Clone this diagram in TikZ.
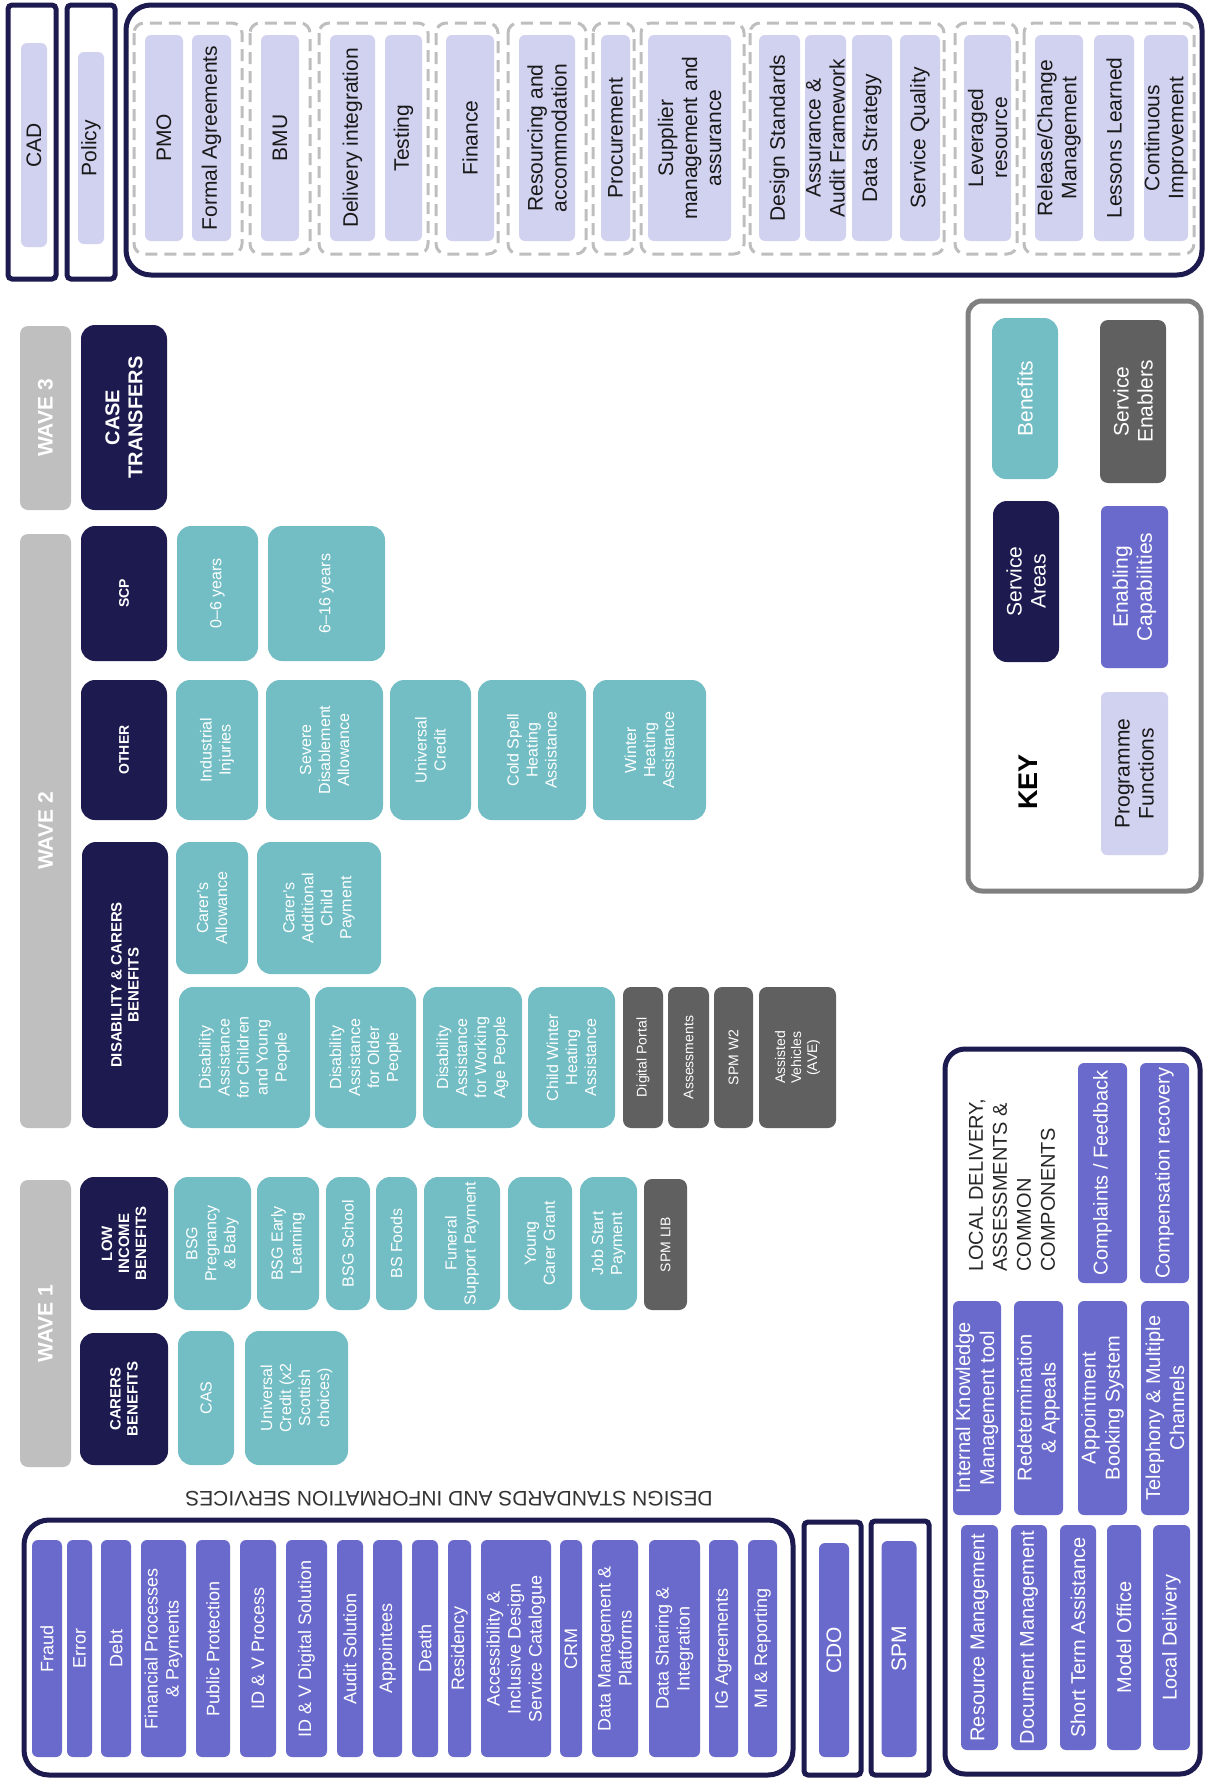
\documentclass[tikz,border=0pt]{standalone}
\usepackage{fontspec}
\setmainfont{Liberation Sans}
\definecolor{navy}{RGB}{28,26,78}
\definecolor{lav}{RGB}{209,209,240}
\definecolor{tealb}{RGB}{115,190,197}
\definecolor{engray}{RGB}{96,96,96}
\definecolor{purp}{RGB}{106,106,204}
\definecolor{wavegray}{RGB}{191,191,191}
\definecolor{dashgray}{RGB}{190,190,190}
\definecolor{keygray}{RGB}{128,128,128}

\begin{document}
\begin{tikzpicture}[x=1pt, y=-1pt,
        fn/.style={rectangle, fill=lav, text=black!90, rounded corners=6pt, inner sep=0pt, align=center, rotate=90, font=\fontsize{21}{24}\selectfont},
        area/.style={rectangle, fill=navy, text=white, rounded corners=14pt, inner sep=0pt, align=center, rotate=90, font=\fontsize{15}{17}\selectfont\bfseries},
        ben/.style={rectangle, fill=tealb, text=white, rounded corners=14pt, inner sep=0pt, align=center, rotate=90, font=\fontsize{16}{19}\selectfont},
        enab/.style={rectangle, fill=engray, text=white, rounded corners=8pt, inner sep=0pt, align=center, rotate=90, font=\fontsize{14}{16}\selectfont},
        ecap/.style={rectangle, fill=purp, text=white, rounded corners=6pt, inner sep=0pt, align=center, rotate=90, font=\fontsize{18}{21}\selectfont},
        lcap/.style={ecap, font=\fontsize{20}{24}\selectfont},
        wave/.style={rectangle, fill=wavegray, text=white, rounded corners=8pt, inner sep=0pt, align=center, rotate=90, font=\fontsize{21}{24}\selectfont\bfseries},
        grp/.style={draw=dashgray, line width=3pt, dash pattern=on 12pt off 7pt, rounded corners=10pt},
        frm/.style={draw=navy, line width=5pt, rounded corners=25pt},
        sfrm/.style={draw=navy, line width=5pt, rounded corners=4pt}
    ]
        \useasboundingbox (0,0) rectangle (1219,1783);

        % programme functions (top)
        \draw[sfrm] (8,5) rectangle (56,279);
        \draw[sfrm] (67,5) rectangle (115,279);
        \draw[frm] (126,5) rectangle (1202,275);
        \node[fn, minimum width=204pt, minimum height=26pt] (cad) at (34,145) {CAD};
        \node[fn, minimum width=192pt, minimum height=26pt] (policy) at (91,148) {Policy};

        \draw[grp] (134,23) rectangle (242,254);
        \draw[grp] (250,23) rectangle (310,254);
        \draw[grp] (319,23) rectangle (428,254);
        \draw[grp] (436,23) rectangle (498,254);
        \draw[grp] (508,23) rectangle (586,254);
        \draw[grp] (593,23) rectangle (634,254);
        \draw[grp] (641,23) rectangle (744,254);
        \draw[grp] (750,23) rectangle (944,254);
        \draw[grp] (955,23) rectangle (1017,254);
        \draw[grp] (1024,23) rectangle (1194,254);

        \node[fn, minimum width=206pt, minimum height=38pt] (pmo) at (164,138) {PMO};
        \node[fn, minimum width=206pt, minimum height=39pt] (fagr) at (211.5,138) {Formal Agreements};
        \node[fn, minimum width=206pt, minimum height=38pt] (bmu) at (280,138) {BMU};
        \node[fn, minimum width=206pt, minimum height=45pt] (dint) at (352.5,138) {Delivery integration};
        \node[fn, minimum width=206pt, minimum height=37pt] (test) at (403.5,138) {Testing};
        \node[fn, minimum width=206pt, minimum height=48pt] (fin) at (470,138) {Finance};
        \node[fn, minimum width=206pt, minimum height=56pt] (resacc) at (547,138) {Resourcing and\\accommodation};
        \node[fn, minimum width=206pt, minimum height=29pt] (proc) at (615.5,138) {Procurement};
        \node[fn, minimum width=206pt, minimum height=83pt] (supp) at (689.5,138) {Supplier\\management and\\assurance};
        \node[fn, minimum width=206pt, minimum height=41pt] (dstd) at (779.5,138) {Design Standards};
        \node[fn, minimum width=206pt, minimum height=41pt] (assu) at (825.5,138) {Assurance \&\\Audit Framework};
        \node[fn, minimum width=206pt, minimum height=40pt] (dstr) at (872,138) {Data Strategy};
        \node[fn, minimum width=206pt, minimum height=40pt] (squa) at (920,138) {Service Quality};
        \node[fn, minimum width=206pt, minimum height=47pt] (lev) at (987.5,138) {Leveraged\\resource};
        \node[fn, minimum width=206pt, minimum height=48pt] (rel) at (1059,138) {Release/Change\\Management};
        \node[fn, minimum width=206pt, minimum height=40pt] (less) at (1114,138) {Lessons Learned};
        \node[fn, minimum width=206pt, minimum height=44pt] (cimp) at (1166,138) {Continuous\\Improvement};

        % wave 3
        \node[wave, minimum width=184pt, minimum height=51pt] (wave3) at (45.5,418) {WAVE 3};
        \node[area, minimum width=185pt, minimum height=86pt, font=\fontsize{20}{23}\selectfont\bfseries] (ct) at (124,417.5) {CASE\\TRANSFERS};

        % wave 2
        \node[wave, minimum width=594pt, minimum height=51pt] (wave2) at (45.5,831) {WAVE 2};
        \node[area, minimum width=135pt, minimum height=86pt, font=\fontsize{14}{16}\selectfont\bfseries] (scp) at (124,593.5) {SCP};
        \node[ben, minimum width=135pt, minimum height=81pt] (y06) at (217.5,593.5) {0--6 years};
        \node[ben, minimum width=135pt, minimum height=117pt] (y616) at (326.5,593.5) {6--16 years};
        \node[area, minimum width=140pt, minimum height=86pt, font=\fontsize{14}{16}\selectfont\bfseries] (other) at (124,750) {OTHER};
        \node[ben, minimum width=140pt, minimum height=82pt] (ii) at (217,750) {Industrial\\Injuries};
        \node[ben, minimum width=140pt, minimum height=117pt] (sda) at (324.5,750) {Severe\\Disablement\\Allowance};
        \node[ben, minimum width=140pt, minimum height=81pt] (uc) at (430.5,750) {Universal\\Credit};
        \node[ben, minimum width=140pt, minimum height=108pt] (csh) at (532,750) {Cold Spell\\Heating\\Assistance};
        \node[ben, minimum width=140pt, minimum height=113pt] (wha) at (649.5,750) {Winter\\Heating\\Assistance};
        \node[area, minimum width=286pt, minimum height=86pt] (dcb) at (125,985) {DISABILITY \& CARERS\\BENEFITS};
        \node[ben, minimum width=132pt, minimum height=72pt] (ca) at (212,908) {Carer's\\Allowance};
        \node[ben, minimum width=132pt, minimum height=124pt] (cacp) at (319,908) {Carer's\\Additional\\Child\\Payment};
        \node[ben, minimum width=141pt, minimum height=131pt] (dacyp) at (244.5,1057.5) {Disability\\Assistance\\for Children\\and Young\\People};
        \node[ben, minimum width=141pt, minimum height=101pt] (daop) at (365.5,1057.5) {Disability\\Assistance\\for Older\\People};
        \node[ben, minimum width=141pt, minimum height=99pt] (dawap) at (472.5,1057.5) {Disability\\Assistance\\for Working\\Age People};
        \node[ben, minimum width=141pt, minimum height=87pt] (cwha) at (571.5,1057.5) {Child Winter\\Heating\\Assistance};
        \node[enab, minimum width=141pt, minimum height=40pt] (dport) at (643,1057.5) {Digital Portal};
        \node[enab, minimum width=141pt, minimum height=41pt] (asmt) at (688.5,1057.5) {Assessments};
        \node[enab, minimum width=141pt, minimum height=39pt] (spmw2) at (733.5,1057.5) {SPM W2};
        \node[enab, minimum width=141pt, minimum height=77pt] (ave) at (797.5,1057.5) {Assisted\\Vehicles\\(AVE)};

        % wave 1
        \node[wave, minimum width=287pt, minimum height=51pt] (wave1) at (45.5,1323.5) {WAVE 1};
        \node[area, minimum width=133pt, minimum height=88pt] (lib) at (124,1243.5) {LOW\\INCOME\\BENEFITS};
        \node[ben, minimum width=133pt, minimum height=77pt] (bsgpb) at (212.5,1243.5) {BSG\\Pregnancy\\\& Baby};
        \node[ben, minimum width=133pt, minimum height=62pt] (bsgel) at (288,1243.5) {BSG Early\\Learning};
        \node[ben, minimum width=133pt, minimum height=44pt] (bsgs) at (348,1243.5) {BSG School};
        \node[ben, minimum width=133pt, minimum height=41pt] (bsf) at (396.5,1243.5) {BS Foods};
        \node[ben, minimum width=133pt, minimum height=76pt] (fsp) at (462,1243.5) {Funeral\\Support Payment};
        \node[ben, minimum width=133pt, minimum height=64pt] (ycg) at (540,1243.5) {Young\\Carer Grant};
        \node[ben, minimum width=133pt, minimum height=57pt] (jsp) at (608.5,1243.5) {Job Start\\Payment};
        \node[enab, minimum width=131pt, minimum height=43pt] (spmlib) at (665.5,1244.5) {SPM LIB};
        \node[area, minimum width=132pt, minimum height=88pt] (cb) at (124,1399) {CARERS\\BENEFITS};
        \node[ben, minimum width=134pt, minimum height=56pt] (cas) at (206,1398) {CAS};
        \node[ben, minimum width=134pt, minimum height=103pt] (ucx) at (296.5,1398) {Universal\\Credit (x2\\Scottish\\choices)};

        % design standards and information services
        \node[rotate=180, text=black!80, font=\fontsize{21}{24}\selectfont] (dsis) at (449,1499) {DESIGN STANDARDS AND INFORMATION SERVICES};
        \draw[frm] (24,1520) rectangle (793,1775);
        \node[ecap, minimum width=217pt, minimum height=30pt] (fraud) at (47,1648.5) {Fraud};
        \node[ecap, minimum width=217pt, minimum height=25pt] (error) at (79.5,1648.5) {Error};
        \node[ecap, minimum width=217pt, minimum height=30pt] (debt) at (116,1648.5) {Debt};
        \node[ecap, minimum width=217pt, minimum height=45pt] (fpp) at (163.5,1648.5) {Financial Processes\\\& Payments};
        \node[ecap, minimum width=217pt, minimum height=34pt] (pprot) at (213,1648.5) {Public Protection};
        \node[ecap, minimum width=217pt, minimum height=36pt] (idvp) at (258,1648.5) {ID \& V Process};
        \node[ecap, minimum width=217pt, minimum height=41pt] (idvd) at (306.5,1648.5) {ID \& V Digital Solution};
        \node[ecap, minimum width=217pt, minimum height=26pt] (audit) at (350,1648.5) {Audit Solution};
        \node[ecap, minimum width=217pt, minimum height=29pt] (appt) at (387.5,1648.5) {Appointees};
        \node[ecap, minimum width=217pt, minimum height=26pt] (death) at (425,1648.5) {Death};
        \node[ecap, minimum width=217pt, minimum height=23pt] (resid) at (459.5,1648.5) {Residency};
        \node[ecap, minimum width=217pt, minimum height=70pt] (aids) at (516,1648.5) {Accessibility \&\\Inclusive Design\\Service Catalogue};
        \node[ecap, minimum width=217pt, minimum height=22pt] (crm) at (571,1648.5) {CRM};
        \node[ecap, minimum width=217pt, minimum height=46pt] (dmp) at (615,1648.5) {Data Management \&\\Platforms};
        \node[ecap, minimum width=217pt, minimum height=51pt] (dsi) at (674.5,1648.5) {Data Sharing \&\\Integration};
        \node[ecap, minimum width=217pt, minimum height=29pt] (iga) at (723.5,1648.5) {IG Agreements};
        \node[ecap, minimum width=217pt, minimum height=29pt] (mir) at (762.5,1648.5) {MI \& Reporting};

        \draw[sfrm] (804,1522) rectangle (861,1775);
        \node[ecap, minimum width=214pt, minimum height=30pt, font=\fontsize{21}{24}\selectfont] (cdo) at (834,1650) {CDO};
        \draw[sfrm] (871,1521) rectangle (929,1775);
        \node[ecap, minimum width=216pt, minimum height=35pt, font=\fontsize{21}{24}\selectfont] (spm) at (899,1649) {SPM};

        % local delivery, assessments & common components
        \draw[frm, rounded corners=20pt] (945,1049) rectangle (1200,1774);
        \node[rotate=90, anchor=west, align=left, inner sep=0pt, text=black!85, font=\fontsize{20}{24}\selectfont] (ldac) at (1012,1272) {LOCAL DELIVERY,\\ASSESSMENTS \&\\COMMON\\COMPONENTS};
        \node[lcap, minimum width=220pt, minimum height=49pt] (cf) at (1102.5,1173) {Complaints / Feedback};
        \node[lcap, minimum width=220pt, minimum height=49pt] (crec) at (1164.5,1173) {Compensation recovery};
        \node[lcap, minimum width=214pt, minimum height=48pt] (ikm) at (977,1408) {Internal Knowledge\\Management tool};
        \node[lcap, minimum width=214pt, minimum height=49pt] (rda) at (1038.5,1408) {Redetermination\\\& Appeals};
        \node[lcap, minimum width=214pt, minimum height=49pt] (abs) at (1102.5,1408) {Appointment\\Booking System};
        \node[lcap, minimum width=214pt, minimum height=48pt] (tmc) at (1165,1408) {Telephony \& Multiple\\Channels};
        \node[lcap, minimum width=225pt, minimum height=37pt] (rm) at (979.5,1637.5) {Resource Management};
        \node[lcap, minimum width=225pt, minimum height=36pt] (dm) at (1029,1637.5) {Document Management};
        \node[lcap, minimum width=225pt, minimum height=36pt] (sta) at (1078,1637.5) {Short Term Assistance};
        \node[lcap, minimum width=225pt, minimum height=34pt] (mo) at (1124,1637.5) {Model Office};
        \node[lcap, minimum width=225pt, minimum height=37pt] (ld) at (1171.5,1637.5) {Local Delivery};

        % key
        \draw[draw=keygray, line width=5pt, rounded corners=14pt] (968,301) rectangle (1201,891);
        \node[ben, minimum width=161pt, minimum height=66pt, font=\fontsize{21}{24}\selectfont] (kben) at (1025,398.5) {Benefits};
        \node[enab, minimum width=163pt, minimum height=66pt, font=\fontsize{21}{24}\selectfont] (kse) at (1133,401.5) {Service\\Enablers};
        \node[area, minimum width=161pt, minimum height=66pt, font=\fontsize{21}{24}\selectfont] (ksa) at (1026,581.5) {Service\\Areas};
        \node[ecap, minimum width=162pt, minimum height=67pt, font=\fontsize{21}{24}\selectfont] (kec) at (1134.5,587) {Enabling\\Capabilities};
        \node[fn, minimum width=163pt, minimum height=67pt] (kpf) at (1134.5,773.5) {Programme\\Functions};
        \node[rotate=90, font=\fontsize{27}{30}\selectfont\bfseries] (key) at (1028,782) {KEY};
    \end{tikzpicture}
\end{document}
